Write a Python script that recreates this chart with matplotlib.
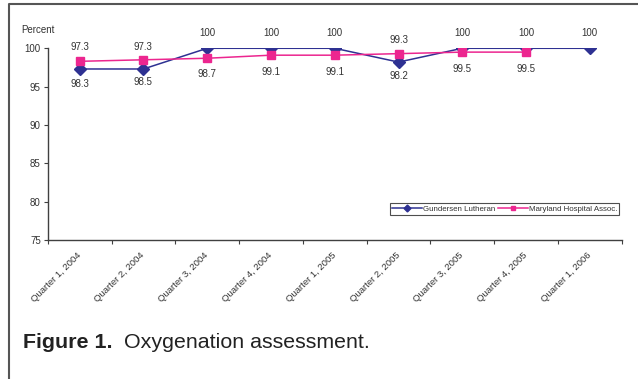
import matplotlib
matplotlib.use("Agg")
import matplotlib.pyplot as plt
from matplotlib.lines import Line2D

plt.rcParams['font.family'] = ['Liberation Sans', 'DejaVu Sans']

quarters = ['Quarter 1, 2004', 'Quarter 2, 2004', 'Quarter 3, 2004', 'Quarter 4, 2004',
            'Quarter 1, 2005', 'Quarter 2, 2005', 'Quarter 3, 2005', 'Quarter 4, 2005',
            'Quarter 1, 2006']
gundersen = [97.3, 97.3, 100, 100, 100, 98.2, 100, 100, 100]
maryland = [98.3, 98.5, 98.7, 99.1, 99.1, 99.3, 99.5, 99.5]

# label offsets (points) above (+) or below (-) each marker
gund_dy = [16, 16, 11, 11, 11, -10, 11, 11, 11]
mary_dy = [-16, -16, -11.5, -12, -12, 10, -12, -12]

blue = '#2E3192'
pink = '#EC268F'
txt = '#333333'

fig = plt.figure(figsize=(6.38, 3.79), dpi=100)
ax = fig.add_axes([0.0748, 0.3668, 0.8997, 0.5058])

x_g = range(len(gundersen))
x_m = range(len(maryland))
ax.plot(x_g, gundersen, color=blue, lw=1.1, marker='D', ms=5.8, label='Gundersen Lutheran')
ax.plot(x_m, maryland, color=pink, lw=1.1, marker='s', ms=5.5, label='Maryland Hospital Assoc.')

for i, v in enumerate(gundersen):
    ax.annotate(f'{v:g}', (i, v), xytext=(0, gund_dy[i]), textcoords='offset points',
                ha='center', va='center', fontsize=7, color=txt)
for i, v in enumerate(maryland):
    ax.annotate(f'{v:g}', (i, v), xytext=(0, mary_dy[i]), textcoords='offset points',
                ha='center', va='center', fontsize=7, color=txt)

ax.set_ylim(75, 100)
ax.set_xlim(-0.5, len(quarters) - 0.5)
ax.set_yticks(range(75, 101, 5))
ax.tick_params(axis='y', labelsize=7, length=3, width=0.8, pad=2, colors='#404040')
ax.tick_params(axis='y', labelcolor=txt)

# labels sit between the tick marks
ax.set_xticks(range(len(quarters)))
ax.set_xticklabels(quarters, rotation=45, ha='right', va='center', rotation_mode='anchor',
                   fontsize=6.8, color=txt)
ax.tick_params(axis='x', which='major', length=0, pad=10)
ax.set_xticks([i - 0.5 for i in range(len(quarters) + 1)], minor=True)
ax.tick_params(axis='x', which='minor', length=3, width=0.8, color='#404040')

for s in ['top', 'right']:
    ax.spines[s].set_visible(False)
for s in ['left', 'bottom']:
    ax.spines[s].set_color('#404040')
    ax.spines[s].set_linewidth(1.0)

leg = ax.legend(loc='center right', bbox_to_anchor=(0.996, 0.162), ncol=2, fontsize=5.7,
                frameon=True, fancybox=False, handlelength=3.8, handletextpad=0.1,
                columnspacing=0.3, borderpad=0.3, borderaxespad=0, markerscale=0.6,
                labelcolor=txt)
leg.get_frame().set_edgecolor('#222222')
leg.get_frame().set_linewidth(0.8)

fig.text(21.7 / 638, 1 - 30 / 379, 'Percent', fontsize=7, color=txt, va='center')

# frame on the left and top edges
fig.add_artist(Line2D([9 / 638, 9 / 638, 1], [0, 1 - 4 / 379, 1 - 4 / 379],
                      transform=fig.transFigure, color='#555555', lw=1.5))

cap = fig.text(23 / 638, 1 - 343 / 379, 'Figure 1.', fontsize=15.4, fontweight='bold',
               color='#222222', va='center')
ax.annotate('  Oxygenation assessment.', xy=(1, 0.5), xycoords=cap, va='center',
            fontsize=15.4, color='#222222', annotation_clip=False)

fig.savefig('out.png', dpi=100)
